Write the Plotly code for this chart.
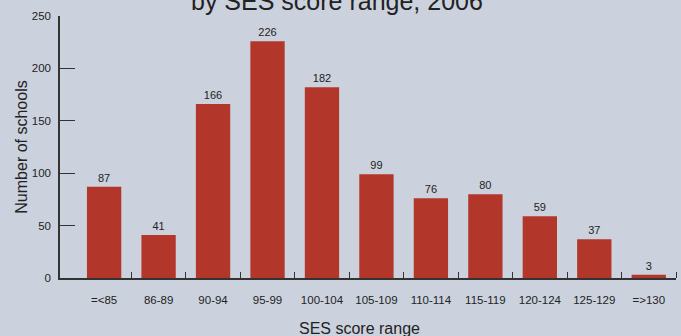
import plotly.graph_objects as go

categories = ["=<85", "86-89", "90-94", "95-99", "100-104", "105-109",
              "110-114", "115-119", "120-124", "125-129", "=>130"]
schools = [87, 41, 166, 226, 182, 99, 76, 80, 59, 37, 3]
y_ticks = [0, 50, 100, 150, 200, 250]

positions = list(range(len(categories)))
bg = "#CBD2DE"
dark = "#333333"
font = "Liberation Sans, Arial, sans-serif"

fig = go.Figure(go.Bar(
    x=positions, y=schools,
    marker=dict(color="#B3362A", line=dict(width=0)),
    width=0.63,
    text=[str(v) for v in schools],
    textposition="outside",
    textfont=dict(size=11, color="#222222", family=font),
    cliponaxis=False,
))

fig.update_layout(
    width=681, height=336,
    margin=dict(l=60, r=5, t=16, b=58),
    paper_bgcolor=bg, plot_bgcolor=bg,
    showlegend=False,
    font=dict(family=font, color="#222222"),
    annotations=[
        dict(text="by SES score range, 2006", xref="paper", yref="paper",
             x=0.45, y=1, xanchor="center", yanchor="bottom", yshift=-1,
             showarrow=False, font=dict(size=25, color="#222222", family=font)),
        dict(text="SES score range", xref="paper", yref="paper",
             x=0.4864, y=0, xanchor="center", yanchor="top", yshift=-40,
             showarrow=False, font=dict(size=16, color="#222222", family=font)),
    ],
)

fig.update_xaxes(
    range=[-0.81, 10.5],
    tickmode="array", tickvals=positions, ticktext=categories,
    ticks="", showgrid=False, zeroline=False,
    showline=True, linecolor=dark, linewidth=1.5,
    tickfont=dict(size=11.5, color="#222222"),
    ticklabelstandoff=10,
    minor=dict(tickmode="array", tickvals=[i + 0.5 for i in positions],
               ticks="inside", ticklen=6, tickcolor=dark, tickwidth=1.2,
               showgrid=False),
)

fig.update_yaxes(
    range=[0, 250],
    tickmode="array", tickvals=y_ticks,
    ticks="inside", ticklen=15, tickcolor=dark, tickwidth=1.2,
    showgrid=False, zeroline=False,
    showline=True, linecolor=dark, linewidth=1.5,
    tickfont=dict(size=11.5, color="#222222"),
    ticklabelstandoff=5,
    title=dict(text="Number of schools", font=dict(size=16), standoff=0),
)

fig.write_html("out.html")
